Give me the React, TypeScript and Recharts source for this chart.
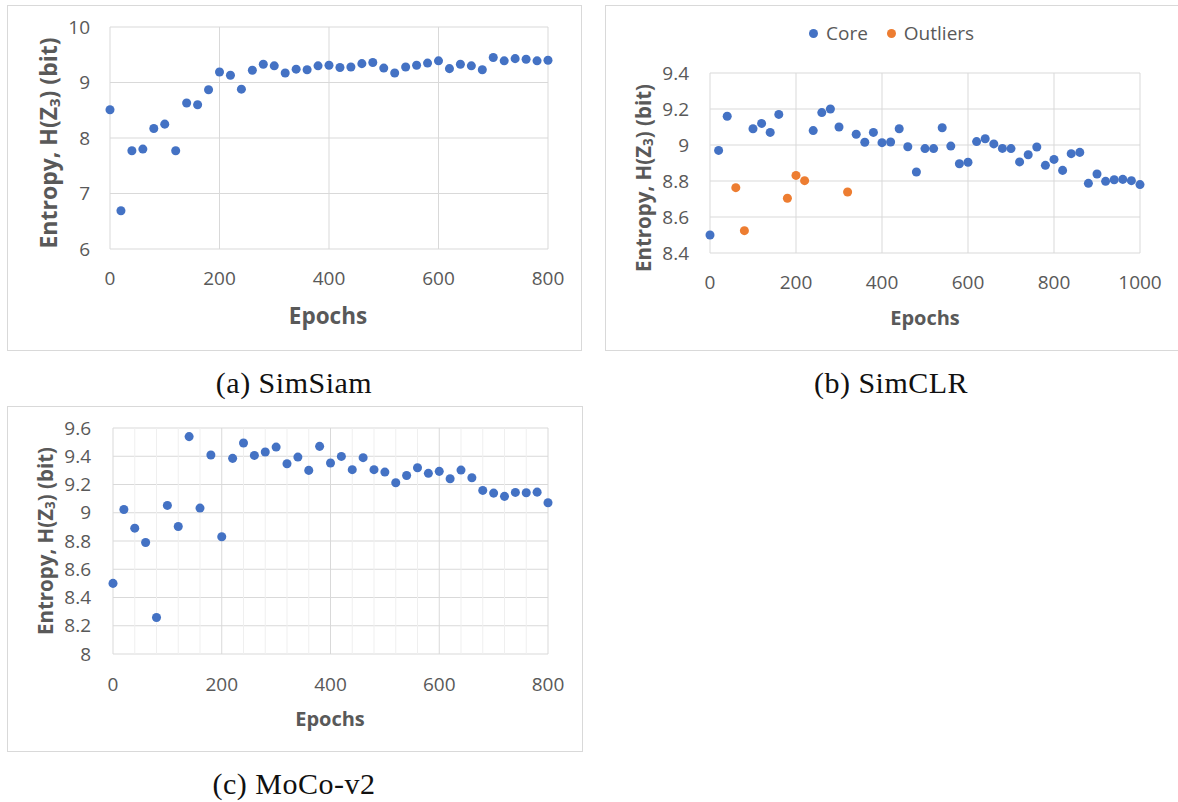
import { ScatterChart, Scatter, XAxis, YAxis, CartesianGrid, Legend, ReferenceLine } from 'recharts';

const FONT = '"Open Sans", sans-serif';
const INK = '#595959';
const GRID = '#d9d9d9';
const MINOR = '#efefef';
const BLUE = '#4472C4';
const ORANGE = '#ED7D31';

// (a) SimSiam
const epochsA = [0, 20, 40, 60, 80, 100, 120, 140, 160, 180, 200, 220, 240, 260, 280, 300, 320, 340, 360, 380, 400, 420, 440, 460, 480, 500, 520, 540, 560, 580, 600, 620, 640, 660, 680, 700, 720, 740, 760, 780, 800];
const entropyA = [8.51, 6.69, 7.77, 7.8, 8.17, 8.25, 7.77, 8.63, 8.6, 8.87, 9.19, 9.13, 8.88, 9.22, 9.33, 9.3, 9.17, 9.24, 9.23, 9.3, 9.31, 9.27, 9.28, 9.34, 9.36, 9.26, 9.17, 9.28, 9.31, 9.35, 9.39, 9.25, 9.33, 9.3, 9.23, 9.45, 9.39, 9.43, 9.42, 9.39, 9.4];
const xTicksA = [0, 200, 400, 600, 800];
const yTicksA = [6, 7, 8, 9, 10];

// (b) SimCLR
const coreEpochsB = [0, 20, 40, 100, 120, 140, 160, 240, 260, 280, 300, 340, 360, 380, 400, 420, 440, 460, 480, 500, 520, 540, 560, 580, 600, 620, 640, 660, 680, 700, 720, 740, 760, 780, 800, 820, 840, 860, 880, 900, 920, 940, 960, 980, 1000];
const coreEntropyB = [8.5, 8.97, 9.16, 9.09, 9.12, 9.07, 9.17, 9.08, 9.18, 9.2, 9.1, 9.06, 9.015, 9.07, 9.013, 9.017, 9.09, 8.99, 8.85, 8.98, 8.98, 9.096, 8.994, 8.896, 8.904, 9.019, 9.035, 9.006, 8.981, 8.98, 8.906, 8.946, 8.989, 8.887, 8.92, 8.859, 8.952, 8.959, 8.787, 8.839, 8.798, 8.807, 8.809, 8.802, 8.78];
const outlierEpochsB = [60, 80, 180, 200, 220, 320];
const outlierEntropyB = [8.763, 8.524, 8.704, 8.831, 8.802, 8.739];
const xTicksB = [0, 200, 400, 600, 800, 1000];
const yTicksB = [8.4, 8.6, 8.8, 9, 9.2, 9.4];

// (c) MoCo-v2
const epochsC = [0, 20, 40, 60, 80, 100, 120, 140, 160, 180, 200, 220, 240, 260, 280, 300, 320, 340, 360, 380, 400, 420, 440, 460, 480, 500, 520, 540, 560, 580, 600, 620, 640, 660, 680, 700, 720, 740, 760, 780, 800];
const entropyC = [8.5, 9.023, 8.891, 8.789, 8.258, 9.052, 8.903, 9.539, 9.033, 9.409, 8.83, 9.385, 9.494, 9.406, 9.43, 9.465, 9.347, 9.394, 9.3, 9.47, 9.352, 9.399, 9.305, 9.39, 9.305, 9.288, 9.212, 9.264, 9.319, 9.279, 9.293, 9.241, 9.302, 9.248, 9.158, 9.139, 9.116, 9.144, 9.142, 9.146, 9.071];
const xTicksC = [0, 200, 400, 600, 800];
const xMinorC = [40, 80, 120, 160, 240, 280, 320, 360, 440, 480, 520, 560, 640, 680, 720, 760];
const yTicksC = [8, 8.2, 8.4, 8.6, 8.8, 9, 9.2, 9.4, 9.6];

const zip = (xs: number[], ys: number[]) => xs.map((x, i) => ({ x, y: ys[i] }));
const fmt = (v: number) => String(Number(v.toFixed(1)));
const tickStyle = { fill: INK, fontSize: 19, fontFamily: FONT };

function YTitle({ cx, cy, size }: { cx: number; cy: number; size: number }) {
  return (
    <text
      x={cx}
      y={cy}
      transform={`rotate(-90 ${cx} ${cy})`}
      textAnchor="middle"
      dominantBaseline="central"
      fill={INK}
      fontFamily={FONT}
      fontWeight={700}
      fontSize={size}
    >
      Entropy, H(Z
      <tspan dy={size * 0.25} fontSize={size * 0.65}>3</tspan>
      <tspan dy={-size * 0.25}>) (bit)</tspan>
    </text>
  );
}

function XTitle({ cx, cy, size }: { cx: number; cy: number; size: number }) {
  return (
    <text x={cx} y={cy} textAnchor="middle" dominantBaseline="central" fill={INK} fontFamily={FONT} fontWeight={700} fontSize={size}>
      Epochs
    </text>
  );
}

function Panel({ left, top, width, height, children }: any) {
  return (
    <div style={{ position: 'absolute', left, top, width, height, boxShadow: `inset 0 0 0 1px ${GRID}` }}>
      {children}
    </div>
  );
}

function Caption({ cx, cy, text }: { cx: number; cy: number; text: string }) {
  return (
    <div
      style={{
        position: 'absolute',
        left: cx - 150,
        top: cy - 18,
        width: 300,
        lineHeight: '36px',
        textAlign: 'center',
        fontFamily: '"Liberation Serif", serif',
        fontSize: 30,
        letterSpacing: 0.5,
        color: '#111',
      }}
    >
      {text}
    </div>
  );
}

function LegendContent({ payload }: any) {
  return (
    <div style={{ display: 'flex', alignItems: 'center', fontFamily: FONT, fontSize: 19, color: INK, lineHeight: '24px' }}>
      {(payload || []).map((p: any) => (
        <span key={p.value} style={{ display: 'flex', alignItems: 'center', marginRight: 19 }}>
          <svg width={9} height={9}>
            <circle cx={4.5} cy={4.5} r={4.5} fill={p.color} />
          </svg>
          <span style={{ marginLeft: 8 }}>{p.value}</span>
        </span>
      ))}
    </div>
  );
}

export default function App() {
  return (
    <div style={{ position: 'absolute', left: 0, top: 0, width: 1178, height: 802, background: '#fff', overflow: 'hidden' }}>
      <Panel left={7} top={5} width={575} height={346}>
        <ScatterChart width={575} height={346} margin={{ top: 22, right: 34, left: 0, bottom: 0 }}>
          <CartesianGrid stroke={GRID} strokeWidth={1} />
          <XAxis
            type="number"
            dataKey="x"
            domain={[0, 800]}
            ticks={xTicksA}
            interval={0}
            height={102}
            axisLine={false}
            tickLine={false}
            tickSize={0}
            tickMargin={23}
            tick={tickStyle}
            label={<XTitle cx={321} cy={310} size={22.5} />}
          />
          <YAxis
            type="number"
            dataKey="y"
            domain={[6, 10]}
            ticks={yTicksA}
            interval={0}
            width={103}
            axisLine={false}
            tickLine={false}
            tickSize={0}
            tickMargin={20}
            tick={tickStyle}
            tickFormatter={fmt}
            label={<YTitle cx={41} cy={138} size={23} />}
          />
          <Scatter data={zip(epochsA, entropyA)} fill={BLUE} isAnimationActive={false} />
        </ScatterChart>
      </Panel>

      <Panel left={605} top={5} width={575} height={346}>
        <ScatterChart width={575} height={346} margin={{ top: 68, right: 40, left: 0, bottom: 0 }}>
          <CartesianGrid stroke={GRID} strokeWidth={1} />
          <XAxis
            type="number"
            dataKey="x"
            domain={[0, 1000]}
            ticks={xTicksB}
            interval={0}
            height={98}
            axisLine={false}
            tickLine={false}
            tickSize={0}
            tickMargin={23}
            tick={tickStyle}
            label={<XTitle cx={320} cy={312} size={20} />}
          />
          <YAxis
            type="number"
            dataKey="y"
            domain={[8.4, 9.4]}
            ticks={yTicksB}
            interval={0}
            width={105}
            axisLine={false}
            tickLine={false}
            tickSize={0}
            tickMargin={21}
            tick={tickStyle}
            tickFormatter={fmt}
            label={<YTitle cx={38} cy={173} size={20.5} />}
          />
          <Legend
            layout="horizontal"
            verticalAlign="middle"
            align="center"
            content={<LegendContent />}
            wrapperStyle={{ top: 16, left: 204, width: 320, height: 24 }}
          />
          <Scatter name="Core" data={zip(coreEpochsB, coreEntropyB)} fill={BLUE} isAnimationActive={false} />
          <Scatter name="Outliers" data={zip(outlierEpochsB, outlierEntropyB)} fill={ORANGE} isAnimationActive={false} />
        </ScatterChart>
      </Panel>

      <Panel left={7} top={406} width={576} height={346}>
        <ScatterChart width={576} height={346} margin={{ top: 22, right: 35, left: 0, bottom: 0 }}>
          {xMinorC.map((v) => (
            <ReferenceLine key={v} x={v} stroke={MINOR} strokeWidth={1} />
          ))}
          <CartesianGrid stroke={GRID} strokeWidth={1} />
          <XAxis
            type="number"
            dataKey="x"
            domain={[0, 800]}
            ticks={xTicksC}
            interval={0}
            height={98}
            axisLine={false}
            tickLine={false}
            tickSize={0}
            tickMargin={24}
            tick={tickStyle}
            label={<XTitle cx={323} cy={312} size={20} />}
          />
          <YAxis
            type="number"
            dataKey="y"
            domain={[8, 9.6]}
            ticks={yTicksC}
            interval={0}
            width={106}
            axisLine={false}
            tickLine={false}
            tickSize={0}
            tickMargin={22}
            tick={tickStyle}
            tickFormatter={fmt}
            label={<YTitle cx={38} cy={135} size={20.5} />}
          />
          <Scatter data={zip(epochsC, entropyC)} fill={BLUE} isAnimationActive={false} />
        </ScatterChart>
      </Panel>

      <Caption cx={294} cy={383} text="(a) SimSiam" />
      <Caption cx={891} cy={383} text="(b) SimCLR" />
      <Caption cx={294} cy={784} text="(c) MoCo-v2" />
    </div>
  );
}
